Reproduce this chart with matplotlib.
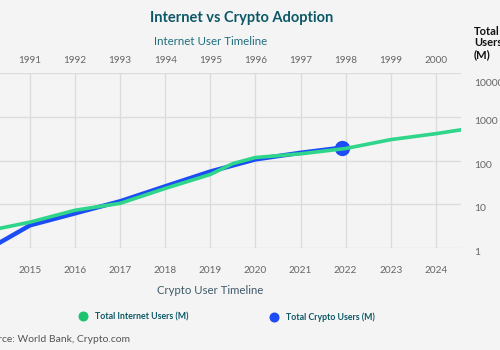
import matplotlib.pyplot as plt
import matplotlib.transforms as mtransforms
from matplotlib.lines import Line2D

plt.rcParams['font.family'] = ['Lato', 'DejaVu Sans']

# internet users (top axis, 1990s)
internet_years = [1990, 1991, 1992, 1993, 1994, 1995, 1995.5, 1996, 1997, 1998, 1999, 2000, 2001]
internet_users = [2.4, 3.9, 7.3, 10.5, 23, 48, 85, 117, 142, 188, 300, 410, 590]

# crypto users (bottom axis, 2010s)
crypto_years = [2014, 2015, 2016, 2017, 2018, 2019, 2020, 2021, 2021.92]
crypto_users = [0.85, 3.3, 6.2, 11.7, 25.7, 56, 106, 150, 197]

top_ticks = list(range(1990, 2001))
bottom_ticks = list(range(2014, 2025))
y_ticks = [1, 10, 100, 1000, 10000]
y_labels = ['1', '10', '100', '1000', '10000']
series_names = ['Total Internet Users (M)', 'Total Crypto Users (M)']

BG = '#f4f4f4'
GREEN = '#2ed58a'
BLUE = '#1b4cf5'
GRID = '#dcdcdc'
TICK = '#666666'
TEAL = '#0d5866'

W, H = 500, 350
fig = plt.figure(figsize=(5, 3.5), dpi=100, facecolor=BG)
ax_l, ax_r, ax_t, ax_b = -40, 461, 73, 248
ax = fig.add_axes([ax_l / W, 1 - ax_b / H, (ax_r - ax_l) / W, (ax_b - ax_t) / H])
ax.set_facecolor(BG)

lo, hi = -0.553, 10.56
ax.set_xlim(2014 + lo, 2014 + hi)
ax.set_yscale('log')
ax.set_ylim(1, 10000)

ax2 = ax.twiny()
ax2.set_xlim(1990 + lo, 1990 + hi)

# blue under green
ax.plot(crypto_years, crypto_users, color=BLUE, lw=3.2, solid_capstyle='round', zorder=3)
ax.plot(crypto_years[-1], crypto_users[-1], 'o', color=BLUE, ms=10, zorder=3)
ax2.plot(internet_years, internet_users, color=GREEN, lw=2.6, solid_capstyle='round', zorder=4)

for a in (ax, ax2):
    for s in a.spines.values():
        s.set_visible(False)

ax.set_xticks(bottom_ticks)
ax.set_xticklabels([str(y) for y in bottom_ticks])
ax.tick_params(axis='x', length=0, pad=13, labelsize=7.2, labelcolor=TICK)
ax.grid(axis='x', color=GRID, lw=1)
ax.set_xlabel('Crypto User Timeline', fontsize=8.2, color='#405a6a', labelpad=7)

ax.set_yticks(y_ticks)
ax.set_yticklabels(y_labels)
ax.yaxis.set_minor_locator(plt.NullLocator())
ax.yaxis.tick_right()
ax.tick_params(axis='y', length=0, pad=9.5, labelsize=7.5, labelcolor=TICK)
ax.grid(axis='y', color=GRID, lw=1)
for lbl in ax.get_yticklabels():
    dy = -9 if lbl.get_text() == '10000' else -3.5
    lbl.set_transform(lbl.get_transform() + mtransforms.ScaledTranslation(0, dy / 100, fig.dpi_scale_trans))

ax2.set_xticks(top_ticks)
ax2.set_xticklabels([str(y) for y in top_ticks])
ax2.tick_params(axis='x', length=0, pad=6, labelsize=7.2, labelcolor=TICK)
ax2.set_xlabel('Internet User Timeline', fontsize=8.3, color='#1f6e7e', labelpad=8)

fig.text(242 / W, 1 - 18 / H, 'Internet vs Crypto Adoption', ha='center', va='center',
         fontsize=10.5, fontweight='bold', color=TEAL)
fig.text(474 / W, 1 - 26 / H, 'Total\nUsers\n(M)', ha='left', va='top',
         fontsize=8, fontweight='bold', color='#111111', linespacing=1.05)
fig.text(130 / W, 1 - 340 / H, 'Source: World Bank, Crypto.com', ha='right', va='center',
         fontsize=7.5, color='#555555')

# two legend entries, each placed on its own
for color, name, x0 in [('#1dc46f', series_names[0], 78.6), (BLUE, series_names[1], 269.6)]:
    h = Line2D([], [], ls='none', marker='o', ms=6.2, color=color)
    leg = fig.legend([h], [name], loc='center left', bbox_to_anchor=(x0 / W, 1 - 317 / H),
                     frameon=False, borderpad=0, borderaxespad=0, handlelength=1.0,
                     handletextpad=0.87, prop={'size': 6.3, 'weight': 'bold'})
    for t in leg.get_texts():
        t.set_color(TEAL)

fig.savefig('out.png', dpi=100, facecolor=BG)
